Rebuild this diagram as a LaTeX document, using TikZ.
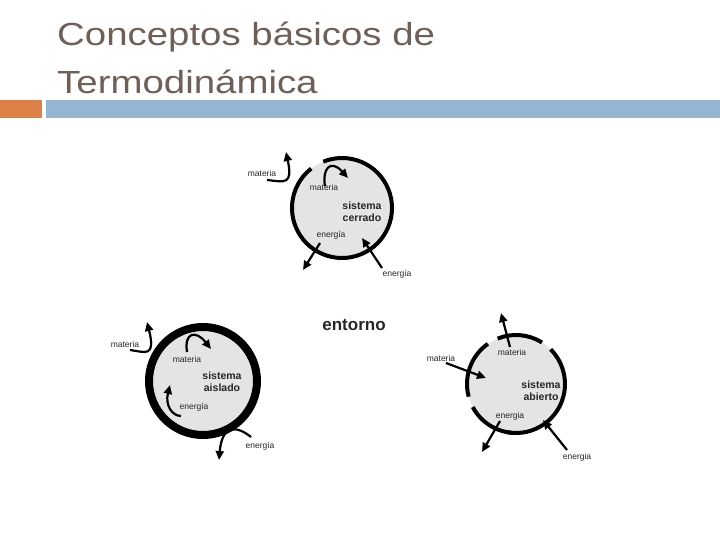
\documentclass[tikz,border=0pt]{standalone}
\usepackage{fontspec}
\setmainfont{Liberation Sans}
\usetikzlibrary{arrows.meta}
\definecolor{titlegray}{RGB}{110,95,87}
\definecolor{barorange}{RGB}{221,128,71}
\definecolor{barblue}{RGB}{148,182,210}
\definecolor{sysgray}{RGB}{228,228,228}
\tikzset{>={Triangle[length=9pt,width=8pt]}}
\tikzset{
  lbl/.style={font=\fontsize{8.5}{9}\selectfont, inner sep=0pt, text=black!85},
  syslbl/.style={font=\fontsize{10.5}{12}\selectfont\bfseries, align=center, inner sep=0pt, text=black!85},
  title/.style={anchor=base west, inner sep=0pt, text=titlegray, font=\fontsize{32}{40}\selectfont, xscale=1.2, transform shape},
  flow/.style={->, line width=2.2pt},
}
\begin{document}
\begin{tikzpicture}[x=1pt, y=-1pt]
    \useasboundingbox (0,0) rectangle (720,540);

    % Title
    \node[title] (t1) at (57,46) {Conceptos básicos de};
    \node[title] (t2) at (57,94) {Termodinámica};
    \fill[barorange] (0,100) rectangle (42,118);
    \fill[barblue] (46,100) rectangle (720,118);

    % Closed system
    \fill[sysgray] (342,208) circle (50);
    \draw[line width=4pt] (342,208) ++(-112:50) arc (-112:232:50);
    \node[lbl] (ma1) at (262,173) {materia};
    \node[lbl] (mi1) at (324,187) {materia};
    \node[syslbl] (s1) at (362,212) {sistema\\cerrado};
    \node[lbl] (ei1) at (331,235) {energía};
    \node[lbl] (eo1) at (397,274) {energía};
    \draw[flow] (267,180) .. controls (285,182) and (293,185) .. (286,152);
    \draw[flow] (325,186) .. controls (322,170) and (330,158) .. (348,178);
    \draw[flow] (320,243) -- (303,270);
    \draw[flow] (382,268) -- (362,238);

    % Isolated system
    \fill[sysgray] (203,381) circle (54);
    \draw[line width=8pt] (203,381) circle (54);
    \node[lbl] (ma2) at (125,344) {materia};
    \node[lbl] (mi2) at (187,359) {materia};
    \node[syslbl] (s2) at (222,382) {sistema\\aislado};
    \node[lbl] (ei2) at (194,407) {energía};
    \node[lbl] (eo2) at (260,446) {energía};
    \draw[flow] (130,350) .. controls (145,352) and (156,358) .. (147,322);
    \draw[flow] (187,352) .. controls (184,332) and (196,330) .. (211,349);
    \draw[flow] (181,416) .. controls (172,416) and (165,405) .. (170,385);
    \draw[flow] (251,437) .. controls (236,425) and (222,425) .. (219,460);

    % Open system
    \fill[sysgray] (516,384) circle (49);
    \draw[line width=4pt] (516,384) ++(100:49) arc (100:-45:49);
    \draw[line width=4pt] (516,384) ++(-58:49) arc (-58:-112:49);
    \draw[line width=4pt] (516,384) ++(-125:49) arc (-125:-195:49);
    \draw[line width=4pt] (516,384) ++(-208:49) arc (-208:-265:49);
    \node[lbl] (ma3) at (441,358) {materia};
    \node[lbl] (mi3) at (512,352) {materia};
    \node[syslbl] (s3) at (541,391) {sistema\\abierto};
    \node[lbl] (ei3) at (510,416) {energia};
    \node[lbl] (eo3) at (577,457) {energia};
    \draw[flow] (510,347) -- (501,313);
    \draw[flow] (446,363) -- (486,378);
    \draw[flow] (500,421) -- (482,452);
    \draw[flow] (567,450) -- (543,420);

    % Surroundings
    \node[font=\fontsize{17}{20}\selectfont\bfseries, text=black!85] (ent) at (354,325) {entorno};
\end{tikzpicture}
\end{document}
